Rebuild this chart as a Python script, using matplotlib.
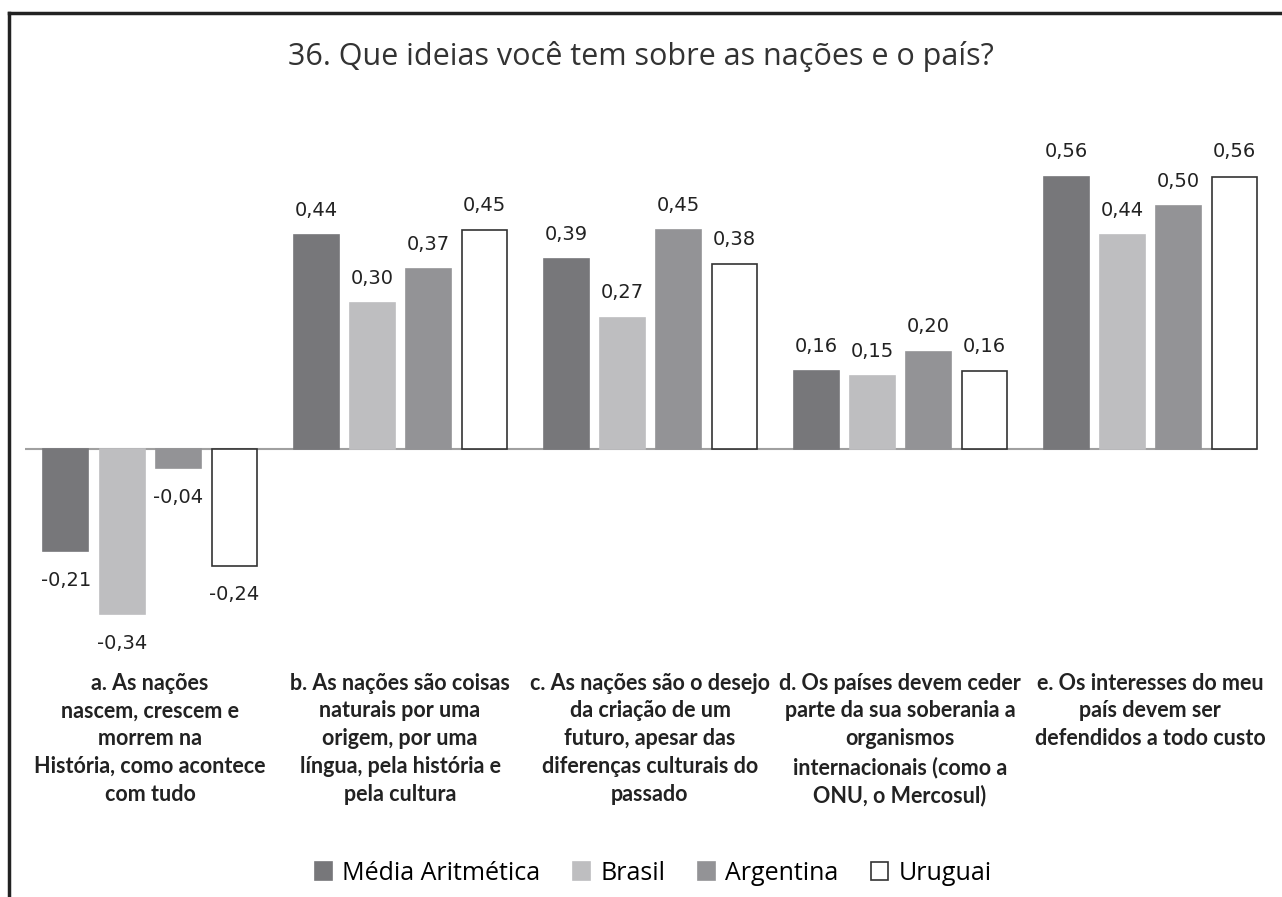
import numpy as np
import matplotlib.pyplot as plt
from matplotlib.lines import Line2D

categorias = [
    "a. As nações\nnascem, crescem e\nmorrem na\nHistória, como acontece\ncom tudo",
    "b. As nações são coisas\nnaturais por uma\norigem, por uma\nlíngua, pela história e\npela cultura",
    "c. As nações são o desejo\nda criação de um\nfuturo, apesar das\ndiferenças culturais do\npassado",
    "d. Os países devem ceder\nparte da sua soberania a\norganismos\ninternacionais (como a\nONU, o Mercosul)",
    "e. Os interesses do meu\npaís devem ser\ndefendidos a todo custo",
]
series = ["Média Aritmética", "Brasil", "Argentina", "Uruguai"]
media = [-0.21, 0.44, 0.39, 0.16, 0.56]
brasil = [-0.34, 0.30, 0.27, 0.15, 0.44]
argentina = [-0.04, 0.37, 0.45, 0.20, 0.50]
uruguai = [-0.24, 0.45, 0.38, 0.16, 0.56]

cores = ["#77777a", "#bebec0", "#939396", "white"]
bordas = ["#77777a", "#bebec0", "#939396", "#333333"]

W, H = 1282, 897
fig = plt.figure(figsize=(W / 100, H / 100), dpi=100)

# axes in pixel terms: left 25, right 1275, top 140, bottom 640
ax = fig.add_axes([25 / W, 1 - 640 / H, 1250 / W, 500 / H])

x = np.arange(len(categorias))
largura = 0.18
passo = 0.224
for i, (nome, vals) in enumerate(zip(series, [media, brasil, argentina, uruguai])):
    pos = x + (i - 1.5) * passo
    ax.bar(pos, vals, largura, color=cores[i], edgecolor=bordas[i],
           linewidth=1.2, label=nome, zorder=3)
    for p, v in zip(pos, vals):
        txt = f"{v:.2f}".replace(".", ",")
        off = 18 if v >= 0 else -21
        ax.annotate(txt, (p, v), xytext=(0, off), textcoords="offset points",
                    ha="center", va="center", fontsize=14,
                    family="DejaVu Sans", color="#222222")

ax.axhline(0, color="#a0a0a0", linewidth=1.5, zorder=2,
           xmin=0, xmax=0.985)
ax.set_xlim(-0.5, 4.5)
ax.set_ylim(-(640 - 449) / 486, (449 - 140) / 486)
for s in ax.spines.values():
    s.set_visible(False)
ax.set_yticks([])
ax.set_xticks([])

for xi, cat in zip(x, categorias):
    ax.text(xi, -0.46, cat, ha="center", va="top", fontsize=15.5,
            family="Lato", fontweight="bold", color="#222222",
            linespacing=1.4)

fig.text(0.5, 1 - 57 / H, "36. Que ideias você tem sobre as nações e o país?",
         ha="center", va="center", fontsize=22, family="Open Sans",
         color="#333333")

handles = [plt.Rectangle((0, 0), 1, 1, facecolor=cores[i], edgecolor=bordas[i],
                         linewidth=1.2) for i in range(4)]
fig.legend(handles, series, loc="center", bbox_to_anchor=(653 / W, 1 - 873 / H),
           ncol=4, frameon=False, handlelength=0.7,
           handleheight=0.7, handletextpad=0.4, columnspacing=1.3,
           prop={"family": "Open Sans", "size": 18})

# moldura (top and left edges)
fig.add_artist(Line2D([9 / W, 1], [1 - 13 / H, 1 - 13 / H], color="#222222",
                      linewidth=2.5, transform=fig.transFigure))
fig.add_artist(Line2D([9 / W, 9 / W], [0, 1 - 13 / H], color="#222222",
                      linewidth=2.5, transform=fig.transFigure))

fig.savefig("out.png", dpi=100, facecolor="white")
